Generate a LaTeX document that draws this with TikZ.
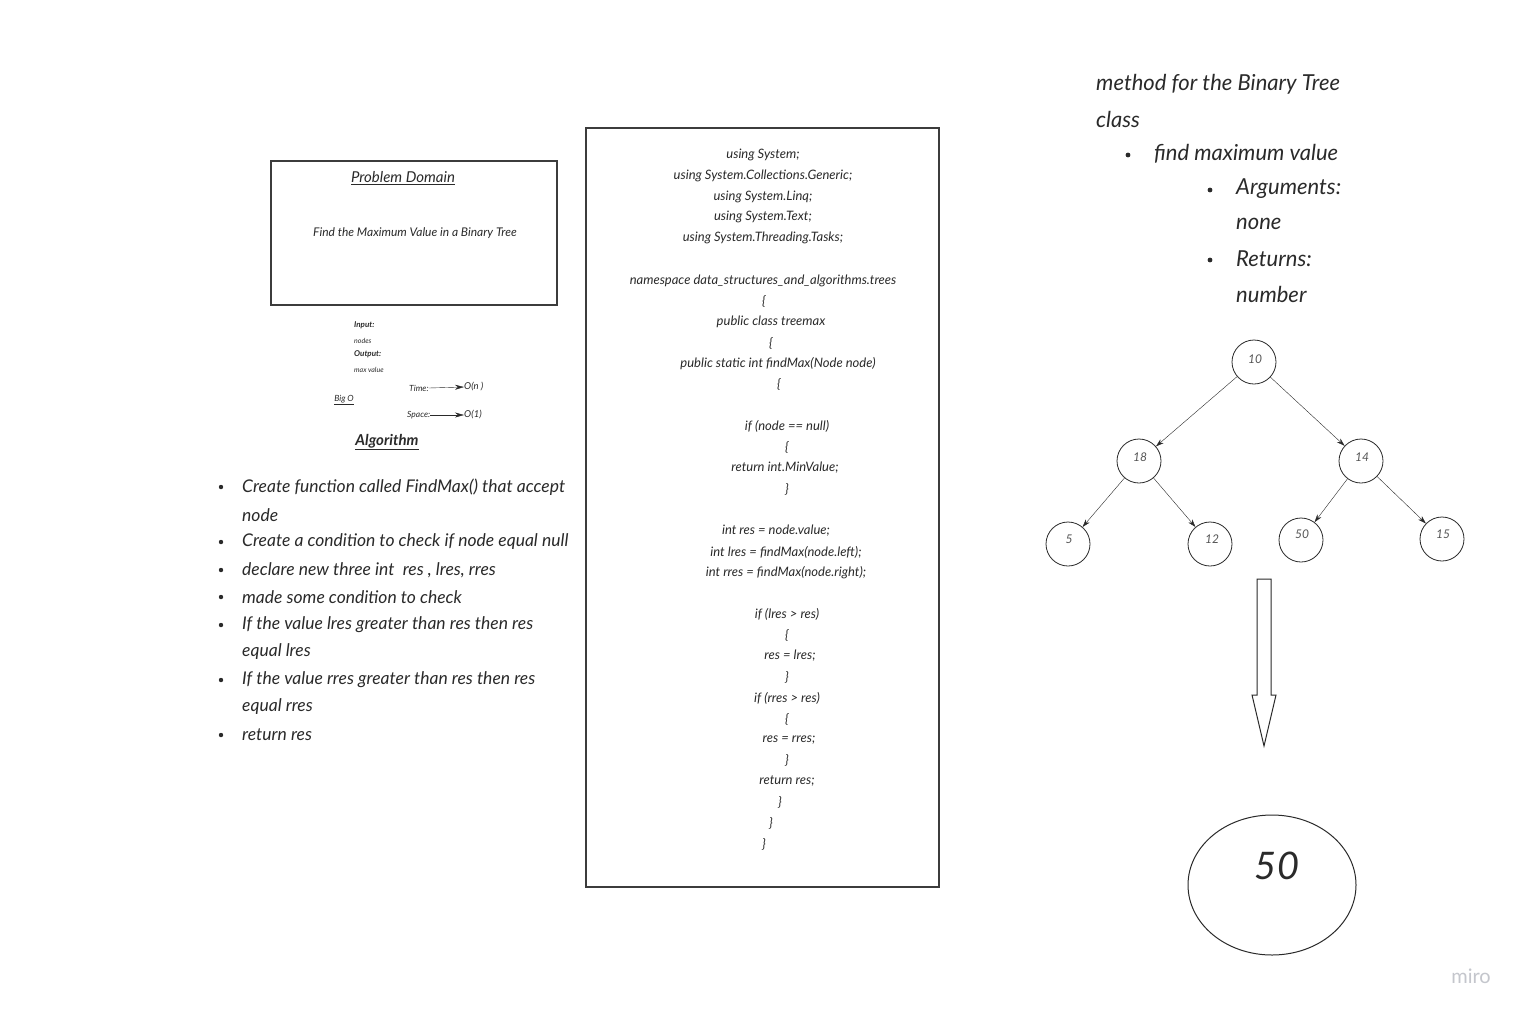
\documentclass[tikz,border=0pt]{standalone}
\usepackage{fontspec}
\setmainfont{Lato}
\usetikzlibrary{arrows.meta,shapes.geometric}
\definecolor{ink}{HTML}{2A2A2A}
\definecolor{frame}{HTML}{3C3C3C}
\definecolor{wm}{HTML}{C4C6CC}
\begin{document}
\begin{tikzpicture}[x=1pt,y=-1pt,
  hand/.style={inner sep=0pt,text=ink,font=\itshape\fontsize{#1}{#1}\selectfont},
  hand/.default=12,
  lft/.style={anchor=west},
  code/.style={hand=13},
  item/.style={hand=17.5,anchor=west},
  ritem/.style={hand=22,anchor=west},
  dot/.style={fill=ink},
  tnode/.style={circle,draw=ink,thick,minimum size=44pt,inner sep=0pt},
  tlabel/.style={hand=12,text=ink!80},
  edge/.style={draw=ink,thin,-{Stealth[length=8pt,width=5pt]}},
  small/.style={-{Stealth[length=9pt,width=5pt]},draw=ink,thin}]
\useasboundingbox[fill=white] (0,0) rectangle (1530,1020);

% ---------- problem domain ----------
\node[draw=frame,line width=1.6pt,minimum width=286pt,minimum height=144pt,inner sep=0pt] (pd) at (414,233) {};
\node[hand=15] (pdt) at (403,178) {\underline{Problem Domain}};
\node[hand=12] (pdx) at (415,233) {Find the Maximum Value in a Binary Tree};

\node[hand=8,lft,font=\bfseries\itshape\fontsize{8}{8}\selectfont] (in) at (354,325) {Input:};
\node[hand=7,lft] (inv) at (354,341) {nodes};
\node[hand=8,lft,font=\bfseries\itshape\fontsize{8}{8}\selectfont] (out) at (354,354) {Output:};
\node[hand=7,lft] (outv) at (354,370) {max value};

\node[hand=8.5] (bigo) at (344,400) {\underline{Big O}};
\node[hand=8.5,lft] (time) at (409,388) {Time:};
\node[hand=9.5,lft] (tval) at (464,387) {O(n )};
\node[hand=8.5,lft] (space) at (407,415) {Space:};
\node[hand=9.5,lft] (sval) at (464,415) {O(1)};
\draw[small] (time.east) -- (tval.west);
\draw[small] (space.east) -- (sval.west);

\node[hand=15,font=\bfseries\itshape\fontsize{15}{15}\selectfont] (alg) at (387,442) {\underline{Algorithm}};

% ---------- algorithm steps ----------
\foreach \y in {487,542,570,597,625,680,735} \fill[dot] (221,\y) circle (2.2pt);
\node[item] at (242,487) {Create function called FindMax() that accept};
\node[item] at (242,515) {node};
\node[item] at (242,542) {Create a condition to check if node equal null};
\node[item] at (242,570) {declare new three int \ res , lres, rres};
\node[item] at (242,597) {made some condition to check};
\node[item] at (242,625) {If the value lres greater than res then res};
\node[item] at (242,652) {equal lres};
\node[item] at (242,680) {If the value rres greater than res then res};
\node[item] at (242,707) {equal rres};
\node[item] at (242,735) {return res};

% ---------- source code ----------
\node[draw=frame,line width=1.6pt,minimum width=353pt,minimum height=759pt,inner sep=0pt] (cb) at (762.5,507.5) {};
\foreach \x/\y/\t in {
  763/155/{using System;},
  763/176/{using System.Collections.Generic;},
  763/197/{using System.Linq;},
  763/217/{using System.Text;},
  763/238/{using System.Threading.Tasks;},
  763/281/{namespace data\_structures\_and\_algorithms.trees},
  764/301/{\{},
  771/322/{public class treemax},
  771/343/{\{},
  778/364/{public static int findMax(Node node)},
  779/384/{\{},
  787/426/{if (node == null)},
  787/447/{\{},
  785/468/{return int.MinValue;},
  787/489/{\}},
  776/531/{int res = node.value;},
  786/552/{int lres = findMax(node.left);},
  786/573/{int rres = findMax(node.right);},
  787/614/{if (lres > res)},
  787/635/{\{},
  790/656/{res = lres;},
  787/677/{\}},
  787/698/{if (rres > res)},
  787/719/{\{},
  789/740/{res = rres;},
  787/760/{\}},
  787/781/{return res;},
  780/802/{\}},
  771/823/{\}},
  764/844/{\}}}
  \node[code] at (\x,\y) {\t};

% ---------- method description ----------
\node[ritem] at (1096,84) {method for the Binary Tree};
\node[ritem] at (1096,119) {class};
\fill[dot] (1128,155) circle (2.4pt);
\node[ritem] at (1154,154) {find maximum value};
\fill[dot] (1210,190) circle (2.4pt);
\node[ritem] at (1236,189) {Arguments:};
\node[ritem] at (1236,224) {none};
\fill[dot] (1210,260) circle (2.4pt);
\node[ritem] at (1236,259) {Returns:};
\node[ritem] at (1236,294) {number};

% ---------- binary tree ----------
\node[tnode] (n10) at (1254,362) {};
\node[tnode] (n18) at (1139,461) {};
\node[tnode] (n14) at (1361,461) {};
\node[tnode] (n5)  at (1068,544) {};
\node[tnode] (n12) at (1210,544) {};
\node[tnode] (n50) at (1301,540) {};
\node[tnode] (n15) at (1442,539) {};
\node[tlabel] at (1255,359) {10};
\node[tlabel] at (1140,457) {18};
\node[tlabel] at (1362,457) {14};
\node[tlabel] at (1069,539) {5};
\node[tlabel] at (1212,539) {12};
\node[tlabel] at (1302,534) {50};
\node[tlabel] at (1443,534) {15};
\draw[edge] (n10) -- (n18);
\draw[edge] (n10) -- (n14);
\draw[edge] (n18) -- (n5);
\draw[edge] (n18) -- (n12);
\draw[edge] (n14) -- (n50);
\draw[edge] (n14) -- (n15);

% ---------- result ----------
\draw[draw=ink,line width=1pt,line join=miter]
  (1257,579) -- (1271,579) -- (1271,695) -- (1276,695) -- (1264,746)
  -- (1252,695) -- (1257,695) -- cycle;
\node[ellipse,draw=ink,line width=1pt,minimum width=168pt,minimum height=140pt,inner sep=0pt] (res) at (1272,885) {};
\node[hand=38] at (1277,866) {50};

\node[text=wm,font=\fontsize{20}{20}\selectfont,inner sep=0pt] (miro) at (1471,976) {miro};
\end{tikzpicture}
\end{document}
